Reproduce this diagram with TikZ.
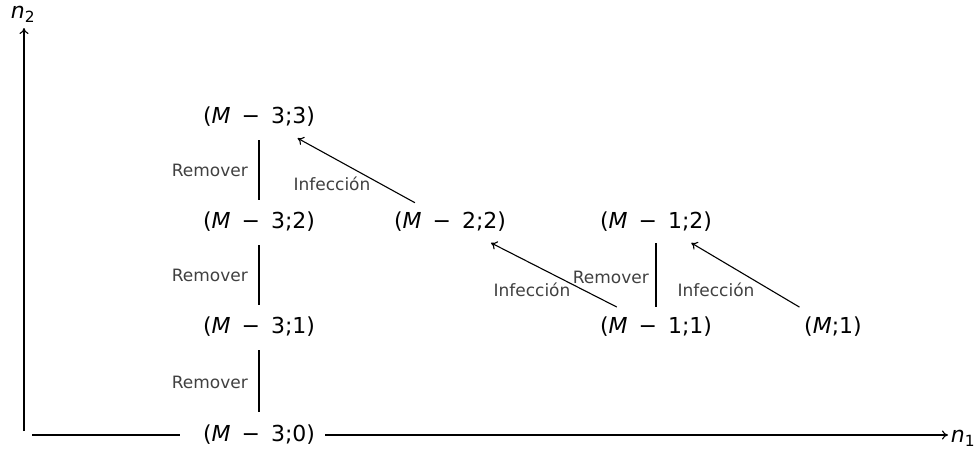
\documentclass[tikz,border=0pt]{standalone}
\usepackage{fontspec}
\setmainfont{DejaVu Sans}
\usetikzlibrary{arrows.meta}
\newcommand\mgap{\hspace{11pt}−\hspace{11pt}}
\begin{document}
\begin{tikzpicture}[x=1pt,y=-1pt,
  st/.style={font=\fontsize{22}{26}\selectfont, inner sep=0pt},
  lab/.style={font=\fontsize{17}{20}\selectfont, text=black!75, inner sep=0pt},
  conn/.style={line width=1.1pt},
  tip/.style={conn,-{To[length=6pt,width=9pt]}}]
\useasboundingbox (0,0) rectangle (978,448);
% states
\node[st] (a33) at (259,117) {(\textit{M}\mgap 3;3)};
\node[st] (a32) at (259,222) {(\textit{M}\mgap 3;2)};
\node[st] (a22) at (450,222) {(\textit{M}\mgap 2;2)};
\node[st] (a12) at (656,222) {(\textit{M}\mgap 1;2)};
\node[st] (a31) at (259,327) {(\textit{M}\mgap 3;1)};
\node[st] (a11) at (656,327) {(\textit{M}\mgap 1;1)};
\node[st] (aM1) at (833,327) {(\textit{M};1)};
\node[st] (a30) at (259,435) {(\textit{M}\mgap 3;0)};
% axes
\coordinate (ya) at (24,431);
\coordinate (yb) at (24,28);
\coordinate (xa) at (32,435);
\coordinate (xb) at (948,435);
\node[st] (n2) at (23,14) {\textit{n}\textsubscript{2}};
\node[st] (n1) at (963,438) {\textit{n}\textsubscript{1}};
\draw[tip] (ya) -- (yb);
\draw[conn, shorten >=79pt] (xa) -- (a30.center);
\draw[tip, shorten <=66pt] (a30.center) -- (xb);
% remover
\draw[conn, shorten <=23pt, shorten >=22pt] (a33.center) -- (a32.center);
\draw[conn, shorten <=23pt, shorten >=22pt] (a32.center) -- (a31.center);
\draw[conn, shorten <=23pt, shorten >=23pt] (a31.center) -- (a30.center);
\draw[conn, shorten <=21pt, shorten >=20pt] (a12.center) -- (a11.center);
\node[lab, anchor=east] (r1) at (248,170) {Remover};
\node[lab, anchor=east] (r2) at (248,275) {Remover};
\node[lab, anchor=east] (r3) at (248,382) {Remover};
\node[lab, anchor=east] (r4) at (649,277) {Remover};
% infection
\draw[tip, shorten <=40pt, shorten >=44pt] (a22.center) -- (a33.center);
\draw[tip, shorten <=44pt, shorten >=46pt] (a11.center) -- (a22.center);
\draw[tip, shorten <=39pt, shorten >=41pt] (aM1.center) -- (a12.center);
\node[lab] (i1) at (332,184) {Infección};
\node[lab] (i2) at (532,290) {Infección};
\node[lab] (i3) at (716,290) {Infección};
\end{tikzpicture}
\end{document}
